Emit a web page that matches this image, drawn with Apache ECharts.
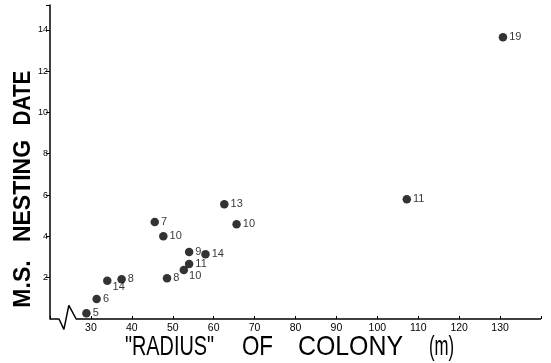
<!DOCTYPE html>
<html>
<head>
<meta charset="utf-8">
<script src="https://cdn.jsdelivr.net/npm/echarts@6/dist/echarts.min.js"></script>
<style>html,body{margin:0;padding:0;background:#fff;}#c{width:551px;height:363px;}</style>
</head>
<body>
<div id="c"></div>
<script>
// Data
var radius = [28.9, 31.4, 34.0, 37.5, 45.6, 47.7, 48.6, 54.0, 58.0, 54.0, 52.7, 62.6, 65.6, 107.2, 130.7];
var nestDate = [0.28, 0.97, 1.85, 1.93, 4.69, 4.01, 1.97, 3.24, 3.14, 2.66, 2.37, 5.56, 4.59, 5.80, 13.64];
var pointLabels = ['5', '6', '14', '8', '7', '10', '8', '9', '14', '11', '10', '13', '10', '11', '19'];
var xTicks = [30, 40, 50, 60, 70, 80, 90, 100, 110, 120, 130];
var yTicks = [2, 4, 6, 8, 10, 12, 14];
// broken-axis baseline (value coordinates)
var breakX = [20, 22.2, 23.4, 24.6, 26.4, 140];
var breakY = [0, 0, -0.5, 0.66, 0, 0];

var labelShift = {2: [-1, 6], 10: [-1, 6]};

var pts = radius.map(function (x, i) {
  var item = {value: [x, nestDate[i]], name: pointLabels[i]};
  if (labelShift[i]) item.label = {offset: labelShift[i]};
  return item;
});
var breakLine = breakX.map(function (x, i) { return [x, breakY[i]]; });

var chart = echarts.init(document.getElementById('c'));
var font = 'Liberation Sans, Arial, sans-serif';

function word(t, x, y, size, weight, sx, sy, rot) {
  return {
    type: 'text', x: x, y: y, rotation: rot || 0, scaleX: sx, scaleY: sy,
    style: {text: t, fontFamily: 'Liberation Sans', fontSize: size, fontWeight: weight,
      fill: '#000', align: 'center', verticalAlign: 'middle'}
  };
}

chart.setOption({
  animation: false,
  backgroundColor: '#fff',
  grid: {left: 50, right: 10, top: 5, bottom: 44},
  xAxis: {
    type: 'value', min: 20, max: 140, interval: 10,
    axisLine: {show: false},
    axisTick: {show: true, inside: true, length: 3, lineStyle: {color: '#000', width: 1}},
    axisLabel: {
      fontFamily: font, fontSize: 10.5, color: '#000', margin: 4,
      formatter: function (v) { return xTicks.indexOf(v) >= 0 ? String(v) : ''; }
    },
    splitLine: {show: false}
  },
  yAxis: {
    type: 'value', min: 0, max: 15.2, interval: 2,
    axisLine: {show: true, lineStyle: {color: '#000', width: 1.5}},
    axisTick: {show: true, length: 4, lineStyle: {color: '#000', width: 1},
      customValues: yTicks.concat([15.2])},
    axisLabel: {
      fontFamily: font, fontSize: 9, color: '#000', margin: 2,
      customValues: yTicks,
      formatter: function (v) { return yTicks.indexOf(v) >= 0 ? String(v) : ''; }
    },
    splitLine: {show: false}
  },
  graphic: [
    word('DATE', 24, 98, 23, 'bold', 0.9, 1, Math.PI / 2),
    word('NESTING', 24, 191, 23, 'bold', 1.0, 1, Math.PI / 2),
    word('M.S.', 24, 284, 23, 'bold', 1.0, 1, Math.PI / 2),
    word('"RADIUS"', 169.5, 347, 28, 'normal', 0.71, 1),
    word('OF', 257.5, 347, 28, 'normal', 0.8, 1),
    word('COLONY', 350.5, 347, 28, 'normal', 0.89, 1),
    word('(m)', 441.5, 347, 28, 'normal', 0.6, 1)
  ],
  series: [
    {
      type: 'line', data: breakLine, symbol: 'none', clip: false, silent: true,
      lineStyle: {color: '#000', width: 1.5}, z: 1
    },
    {
      type: 'scatter', data: pts, symbol: 'circle', symbolSize: 8.5,
      itemStyle: {color: '#000'},
      label: {
        show: true, position: 'right', distance: 2,
        formatter: function (p) { return p.name; },
        fontFamily: font, fontSize: 11, color: '#000'
      }
    }
  ]
});
</script>
</body>
</html>
